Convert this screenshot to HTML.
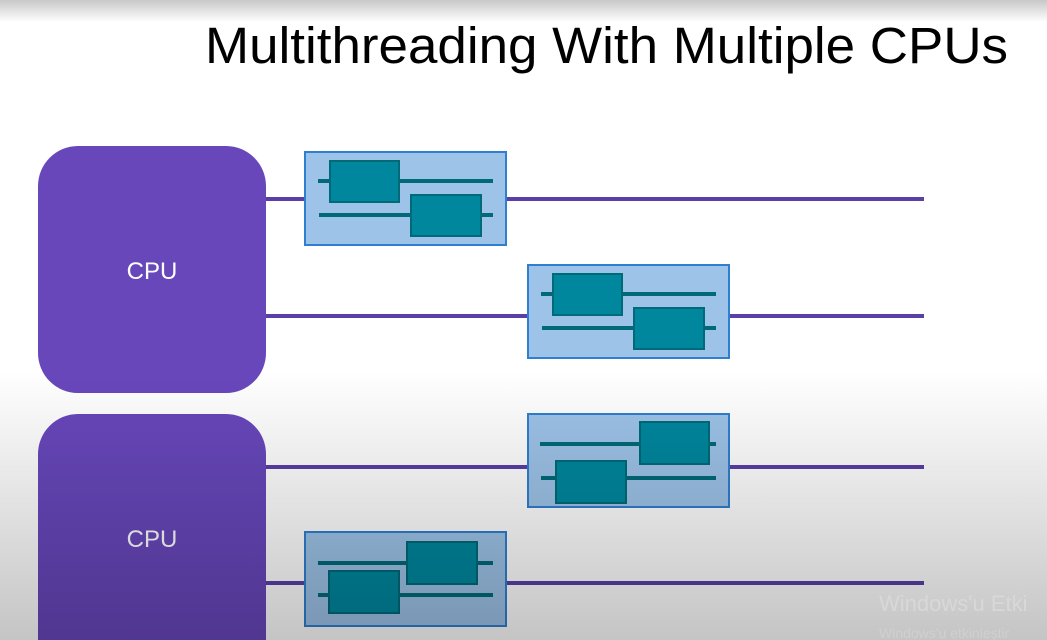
<!DOCTYPE html>
<html><head><meta charset="utf-8"><style>
html,body{margin:0;padding:0;background:#fff;width:1047px;height:640px;overflow:hidden;}
svg{display:block;overflow:hidden;}
</style></head><body>
<svg width="1047" height="640" viewBox="0 0 1047 640" xmlns="http://www.w3.org/2000/svg">
<defs>
<linearGradient id="top" x1="0" y1="0" x2="0" y2="1">
<stop offset="0" stop-color="#c8c8c8"/><stop offset="1" stop-color="#ffffff"/>
</linearGradient>
<linearGradient id="ov" x1="0" y1="0" x2="0" y2="640" gradientUnits="userSpaceOnUse">
<stop offset="0" stop-color="#000" stop-opacity="0"/>
<stop offset="0.58" stop-color="#000" stop-opacity="0"/>
<stop offset="1" stop-color="#000" stop-opacity="0.23"/>
</linearGradient>
</defs>
<rect width="1047" height="640" fill="#fff"/>
<rect width="1047" height="22" fill="url(#top)"/>
<text x="205" y="63" font-family="Liberation Sans, sans-serif" font-size="51" fill="#000" textLength="803" lengthAdjust="spacingAndGlyphs">Multithreading With Multiple CPUs</text>

<g stroke="#5a3fa8" stroke-width="4">
<line x1="264" y1="199" x2="924" y2="199"/>
<line x1="264" y1="316" x2="924" y2="316"/>
<line x1="264" y1="467" x2="924" y2="467"/>
<line x1="264" y1="583" x2="924" y2="583"/>
</g>
<rect x="38" y="146" width="228" height="247" rx="40" fill="#6847bb"/>
<path d="M38 640 V454 A40 40 0 0 1 78 414 H226 A40 40 0 0 1 266 454 V640 Z" fill="#6847bb"/>
<text x="152" y="279" font-family="Liberation Sans, sans-serif" font-size="24" fill="#fff" text-anchor="middle">CPU</text>
<text x="152" y="547" font-family="Liberation Sans, sans-serif" font-size="24" fill="#fff" text-anchor="middle">CPU</text>

<g stroke-width="4" stroke="#006a78">
<rect x="305" y="152" width="201" height="93" fill="#9dc3e8" stroke="#2f7fd0" stroke-width="2"/>
<line x1="318" y1="181" x2="493" y2="181"/>
<line x1="319" y1="215" x2="493" y2="215"/>
<rect x="330" y="161" width="69" height="41" fill="#00879e" stroke-width="2"/>
<rect x="411" y="195" width="70" height="41" fill="#00879e" stroke-width="2"/>
<rect x="528" y="265" width="201" height="93" fill="#9dc3e8" stroke="#2f7fd0" stroke-width="2"/>
<line x1="541" y1="294" x2="716" y2="294"/>
<line x1="542" y1="328" x2="716" y2="328"/>
<rect x="553" y="274" width="69" height="41" fill="#00879e" stroke-width="2"/>
<rect x="634" y="308" width="70" height="41" fill="#00879e" stroke-width="2"/>
<rect x="528" y="414" width="201" height="93" fill="#9dc3e8" stroke="#2f7fd0" stroke-width="2"/>
<line x1="540" y1="444" x2="716" y2="444"/>
<line x1="541" y1="478" x2="716" y2="478"/>
<rect x="640" y="422" width="69" height="42" fill="#00879e" stroke-width="2"/>
<rect x="556" y="461" width="70" height="42" fill="#00879e" stroke-width="2"/>
<rect x="305" y="532" width="201" height="94" fill="#9dc3e8" stroke="#2f7fd0" stroke-width="2"/>
<line x1="318" y1="563" x2="493" y2="563"/>
<line x1="318" y1="595" x2="493" y2="595"/>
<rect x="407" y="542" width="70" height="42" fill="#00879e" stroke-width="2"/>
<rect x="329" y="571" width="70" height="42" fill="#00879e" stroke-width="2"/>
</g>
<rect width="1047" height="640" fill="url(#ov)"/>
<text x="879" y="611" font-family="Liberation Sans, sans-serif" font-size="22" fill="#d8d8d8">Windows'u Etki</text>
<text x="879" y="638" font-family="Liberation Sans, sans-serif" font-size="14" fill="#d0d0d0">Windows'u etkinleştir</text>
</svg>
</body></html>
